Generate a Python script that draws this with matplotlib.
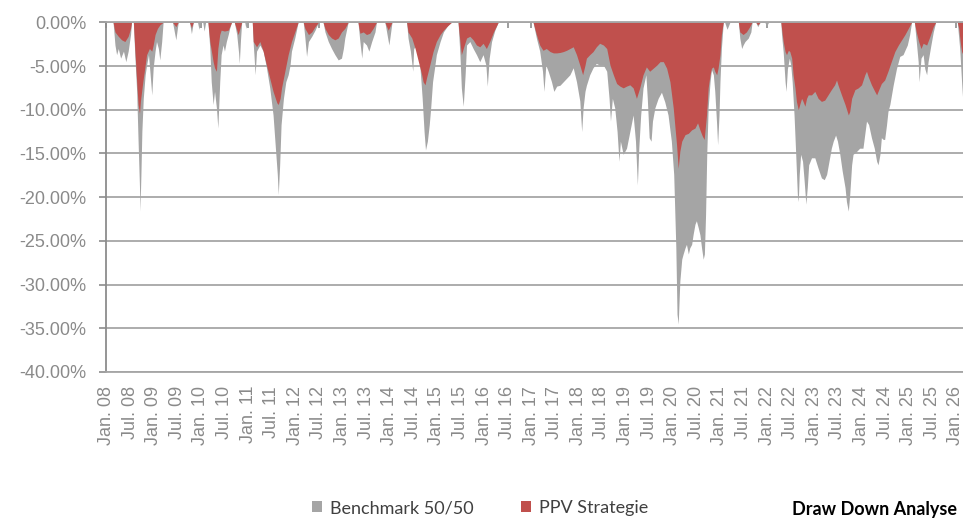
import matplotlib
matplotlib.use("Agg")
import matplotlib.pyplot as plt
from matplotlib.patches import Patch

# ---------------- data (drawdown in %, dates as decimal years) ----------------
bench_dates = [
    2008.14, 2008.18, 2008.215, 2008.25, 2008.30, 2008.36, 2008.41, 2008.46, 2008.51, 2008.53,
    2008.57, 2008.60, 2008.64, 2008.67, 2008.70, 2008.71, 2008.73, 2008.75, 2008.78, 2008.82, 2008.85, 2008.89, 2008.92, 2008.96, 2008.99, 2009.03, 2009.06, 2009.10, 2009.13, 2009.17, 2009.20,
    2009.40, 2009.47, 2009.52, 2009.76, 2009.80, 2009.84, 2009.93, 2009.96, 2009.99, 2010.04, 2010.07, 2010.10,
    2010.15, 2010.19, 2010.22, 2010.26, 2010.29, 2010.33, 2010.36, 2010.40, 2010.43, 2010.47, 2010.50, 2010.54, 2010.58, 2010.61, 2010.65,
    2010.71, 2010.76, 2010.80, 2010.815, 2010.84, 2010.865, 2010.93, 2010.955, 2010.98,
    2011.09, 2011.11, 2011.125, 2011.15, 2011.18, 2011.25, 2011.32, 2011.39, 2011.46, 2011.53, 2011.58, 2011.62, 2011.64, 2011.67, 2011.70, 2011.75, 2011.80, 2011.85, 2011.89, 2011.92, 2011.99, 2012.06,
    2012.17, 2012.205, 2012.24, 2012.28, 2012.35, 2012.42, 2012.49,
    2012.59, 2012.63, 2012.70, 2012.77, 2012.84, 2012.91, 2012.98, 2013.02, 2013.05, 2013.12,
    2013.33, 2013.37, 2013.41, 2013.44, 2013.51, 2013.56, 2013.62, 2013.69, 2013.72,
    2013.90, 2013.985, 2014.05,
    2014.36, 2014.39, 2014.44, 2014.49, 2014.51, 2014.57, 2014.64, 2014.69, 2014.73, 2014.76, 2014.80, 2014.84, 2014.87, 2014.91, 2014.96, 2014.99, 2015.07, 2015.14, 2015.24, 2015.31,
    2015.45, 2015.49, 2015.52, 2015.56, 2015.60, 2015.63, 2015.70, 2015.77, 2015.84, 2015.91, 2015.98, 2016.04, 2016.07, 2016.11, 2016.16, 2016.23, 2016.30,
    2017.04, 2017.11, 2017.18, 2017.24, 2017.27, 2017.31, 2017.36, 2017.43, 2017.48, 2017.54, 2017.61, 2017.68, 2017.75, 2017.82, 2017.89, 2017.96, 2018.03, 2018.07, 2018.10, 2018.14, 2018.17, 2018.24, 2018.31, 2018.38, 2018.45, 2018.53, 2018.60,
    2018.65, 2018.68, 2018.72, 2018.77, 2018.82, 2018.86, 2018.89, 2018.95, 2019.02, 2019.09, 2019.16, 2019.21, 2019.25, 2019.28, 2019.32, 2019.37, 2019.43, 2019.46, 2019.50, 2019.54, 2019.57, 2019.62, 2019.69, 2019.76, 2019.83, 2019.90, 2019.97, 2020.02,
    2020.065, 2020.09, 2020.115, 2020.15, 2020.19, 2020.22, 2020.26, 2020.29, 2020.33, 2020.36, 2020.40, 2020.43, 2020.47, 2020.50, 2020.54, 2020.575, 2020.61, 2020.645, 2020.67, 2020.695, 2020.72, 2020.75, 2020.79, 2020.82, 2020.86, 2020.89, 2020.93, 2020.95, 2020.98, 2021.00, 2021.03, 2021.07,
    2021.10, 2021.15, 2021.21, 2021.39, 2021.42, 2021.46, 2021.49, 2021.53, 2021.60, 2021.655, 2021.68, 2021.76, 2021.80, 2021.85, 2021.95, 2021.99, 2022.03,
    2022.29, 2022.305, 2022.34, 2022.38, 2022.40, 2022.43, 2022.47, 2022.50, 2022.53, 2022.57, 2022.60, 2022.64, 2022.66, 2022.68, 2022.71, 2022.75, 2022.785, 2022.82, 2022.85, 2022.88, 2022.94,
    2023.01, 2023.08, 2023.15, 2023.21, 2023.26, 2023.31, 2023.36, 2023.40, 2023.45, 2023.49, 2023.54, 2023.59, 2023.65, 2023.68, 2023.72, 2023.75, 2023.79, 2023.82, 2023.89, 2023.96,
    2024.03, 2024.105, 2024.15, 2024.21, 2024.27, 2024.32, 2024.35, 2024.39, 2024.42, 2024.46, 2024.49, 2024.53, 2024.56, 2024.60, 2024.67, 2024.74, 2024.81, 2024.88, 2024.92, 2024.97, 2025.02, 2025.06,
    2025.12, 2025.16, 2025.20, 2025.22, 2025.26, 2025.305, 2025.34, 2025.38, 2025.41, 2025.47, 2025.52, 2025.57,
    2026.03, 2026.08, 2026.12, 2026.15,
]
bench_dd = [
    0, -2.6, -3.7, -3.0, -4.1, -3.3, -4.5, -3.3, -1.4, 0,
    0, -3.7, -7.9, -13.6, -18.9, -21.6, -17.4, -12.5, -8.7, -6.0, -4.9, -3.7, -5.6, -8.3, -5.2, -3.3, -2.2, -3.0, -4.3, -2.2, 0,
    0, -2.0, 0, 0, -1.3, 0, 0, -0.8, 0, 0, -1.0, 0,
    0, -3.0, -6.8, -9.4, -7.9, -9.8, -12.1, -6.8, -3.7, -2.6, -3.3, -2.2, -1.4, -0.7, 0,
    0, -1.4, -3.5, -4.7, -2.0, 0, 0, -0.7, 0,
    0, -2.5, -3.7, -6.0, -3.3, -2.6, -3.3, -5.2, -7.5, -10.6, -14.4, -17.4, -19.7, -16.3, -11.7, -8.7, -6.8, -6.0, -4.9, -3.3, -1.8, 0,
    0, -1.8, -3.9, -2.2, -1.6, -0.9, 0,
    0, -1.1, -2.2, -3.0, -3.7, -4.3, -4.1, -3.0, -1.8, 0,
    0, -2.2, -4.1, -2.2, -2.6, -3.3, -2.2, -1.1, 0,
    0, -2.6, 0,
    0, -1.8, -3.3, -5.6, -3.0, -2.6, -4.9, -8.7, -12.5, -14.6, -13.6, -11.7, -9.8, -6.8, -4.9, -3.7, -2.2, -1.1, -0.3, 0,
    0, -3.7, -7.5, -9.6, -6.0, -2.6, -2.2, -3.0, -3.7, -4.5, -3.7, -4.9, -7.3, -4.1, -2.2, -0.9, 0,
    0, -1.8, -3.3, -5.6, -7.9, -4.9, -5.6, -6.8, -7.9, -7.3, -7.2, -6.8, -6.4, -6.0, -5.2, -6.8, -9.0, -12.5, -9.8, -7.9, -7.2, -6.0, -5.2, -4.7, -4.9, -4.9, -5.6,
    -8.7, -11.3, -8.7, -9.8, -12.5, -15.9, -13.6, -15.1, -14.4, -12.5, -10.6, -13.6, -18.6, -14.4, -10.6, -7.5, -6.0, -8.7, -13.2, -13.6, -11.3, -9.8, -8.7, -8.0, -9.1, -10.6, -13.6, -17.4,
    -25.8, -33.4, -34.5, -29.6, -27.1, -26.5, -25.8, -25.4, -26.5, -25.8, -25.4, -24.3, -23.1, -22.7, -23.5, -24.3, -25.8, -27.1, -26.5, -22.0, -15.1, -9.8, -6.8, -5.4, -6.0, -7.9, -11.7, -14.0, -10.6, -6.8, -3.0, 0,
    0, -0.8, 0, 0, -1.8, -3.0, -2.6, -2.2, -1.8, -1.1, 0, 0, -0.5, 0, 0, -0.4, 0,
    0, -1.4, -3.4, -6.8, -7.9, -5.3, -4.1, -4.9, -6.8, -10.6, -14.4, -19.7, -20.5, -17.4, -15.1, -15.9, -18.2, -20.8, -18.9, -16.3, -15.5,
    -15.5, -16.7, -17.8, -18.0, -17.4, -15.9, -14.4, -13.6, -12.9, -13.6, -15.1, -17.0, -18.9, -20.5, -21.6, -19.7, -16.3, -15.1, -14.8, -14.4,
    -14.4, -11.3, -11.7, -13.2, -14.4, -15.9, -16.3, -15.1, -13.2, -13.4, -13.4, -11.7, -10.2, -9.4, -7.2, -5.3, -3.9, -3.7, -3.2, -2.6, -1.4, 0,
    0, -2.2, -4.5, -6.8, -4.1, -3.7, -5.3, -6.0, -4.5, -2.6, -1.1, 0,
    0, -3.0, -6.8, -9.4,
]

strat_dates = [
    2008.14, 2008.18, 2008.25, 2008.32, 2008.39, 2008.46, 2008.51, 2008.53,
    2008.57, 2008.60, 2008.64, 2008.67, 2008.70, 2008.72, 2008.77, 2008.82, 2008.85, 2008.91, 2008.96, 2008.99, 2009.03, 2009.08, 2009.13, 2009.20,
    2009.40, 2009.47, 2009.52, 2009.76, 2009.80, 2009.84,
    2010.15, 2010.19, 2010.26, 2010.29, 2010.33, 2010.36, 2010.40, 2010.43, 2010.50, 2010.58, 2010.65,
    2010.71, 2010.79, 2010.865,
    2011.09, 2011.11, 2011.18, 2011.25, 2011.32, 2011.39, 2011.46, 2011.53, 2011.61, 2011.64, 2011.68, 2011.71, 2011.78, 2011.85, 2011.92, 2011.99, 2012.06,
    2012.17, 2012.205, 2012.28, 2012.35, 2012.42, 2012.49,
    2012.59, 2012.63, 2012.70, 2012.77, 2012.84, 2012.91, 2012.98, 2013.05, 2013.12,
    2013.33, 2013.37, 2013.44, 2013.51, 2013.58, 2013.65, 2013.72,
    2013.90, 2013.97, 2014.05,
    2014.36, 2014.39, 2014.47, 2014.54, 2014.61, 2014.68, 2014.71, 2014.75, 2014.78, 2014.85, 2014.92, 2014.99, 2015.07, 2015.14, 2015.21, 2015.31,
    2015.45, 2015.49, 2015.52, 2015.56, 2015.63, 2015.70, 2015.77, 2015.84, 2015.91, 2015.98, 2016.05, 2016.12, 2016.20, 2016.30,
    2017.04, 2017.11, 2017.18, 2017.25, 2017.32, 2017.40, 2017.47, 2017.54, 2017.61, 2017.68, 2017.75, 2017.82, 2017.89, 2017.96, 2018.03, 2018.09, 2018.14, 2018.17, 2018.24, 2018.31, 2018.38, 2018.45, 2018.53, 2018.60,
    2018.67, 2018.74, 2018.81, 2018.88, 2018.95, 2019.02, 2019.09, 2019.16, 2019.23, 2019.30, 2019.37, 2019.44, 2019.51, 2019.585, 2019.66, 2019.73, 2019.80, 2019.87, 2019.94, 2020.01,
    2020.08, 2020.115, 2020.15, 2020.19, 2020.26, 2020.33, 2020.40, 2020.47, 2020.525, 2020.575, 2020.625, 2020.665, 2020.715, 2020.75, 2020.79, 2020.82, 2020.86, 2020.89, 2020.93, 2020.96, 2021.00, 2021.03, 2021.07,
    2021.39, 2021.42, 2021.49, 2021.56, 2021.63, 2021.68, 2021.76, 2021.80, 2021.85,
    2022.29, 2022.305, 2022.34, 2022.38, 2022.41, 2022.45, 2022.48, 2022.52, 2022.55, 2022.59, 2022.62, 2022.66, 2022.69, 2022.73, 2022.76, 2022.80, 2022.835, 2022.87, 2022.94,
    2023.01, 2023.08, 2023.15, 2023.22, 2023.29, 2023.36, 2023.43, 2023.47, 2023.50, 2023.575, 2023.65, 2023.72, 2023.75, 2023.79, 2023.86, 2023.93,
    2024.00, 2024.07, 2024.105, 2024.14, 2024.21, 2024.28, 2024.32, 2024.35, 2024.42, 2024.49, 2024.56, 2024.63, 2024.705, 2024.78, 2024.85, 2024.92, 2024.99, 2025.06,
    2025.12, 2025.16, 2025.21, 2025.26, 2025.305, 2025.38, 2025.45, 2025.52, 2025.57,
    2026.03, 2026.06, 2026.09, 2026.12, 2026.15,
]
strat_dd = [
    0, -1.1, -1.6, -2.0, -2.2, -1.6, -0.7, 0,
    0, -3.0, -6.8, -9.4, -10.4, -9.0, -6.8, -4.9, -3.7, -3.0, -3.3, -2.6, -1.4, -0.7, -0.3, 0,
    0, -0.5, 0, 0, -0.6, 0,
    0, -2.2, -4.5, -5.2, -5.6, -3.0, -1.4, -0.9, -1.0, -0.9, 0,
    0, -1.4, 0,
    0, -2.2, -2.8, -2.2, -3.3, -4.9, -6.4, -7.9, -9.2, -9.4, -8.7, -7.5, -5.6, -3.7, -2.2, -1.1, 0,
    0, -0.7, -1.4, -1.1, -0.5, 0,
    0, -0.7, -1.4, -1.8, -2.0, -1.8, -1.1, -0.7, 0,
    0, -1.25, -1.1, -1.4, -1.25, -0.7, 0,
    0, -0.9, 0,
    0, -1.1, -1.8, -3.0, -4.5, -6.0, -6.8, -7.15, -6.4, -4.9, -3.35, -2.2, -1.4, -0.9, -0.5, 0,
    0, -2.2, -3.7, -3.0, -1.8, -1.6, -2.0, -2.6, -2.8, -2.4, -3.0, -2.2, -1.1, 0,
    0, -1.4, -2.6, -3.2, -3.0, -3.35, -3.5, -3.5, -3.45, -3.35, -3.2, -3.0, -2.8, -3.7, -4.9, -6.0, -4.9, -4.1, -3.7, -3.35, -2.8, -2.4, -2.6, -3.0,
    -4.9, -6.0, -7.0, -7.3, -7.5, -7.3, -7.15, -7.5, -8.7, -7.5, -6.0, -5.1, -5.6, -5.25, -4.9, -4.5, -4.5, -5.25, -6.8, -9.8,
    -14.0, -16.7, -14.75, -13.6, -12.85, -12.7, -12.3, -12.1, -11.5, -12.3, -13.0, -13.4, -10.6, -7.5, -6.0, -5.25, -5.1, -5.6, -6.0, -5.25, -3.7, -1.4, 0,
    0, -1.1, -1.4, -1.1, -0.5, 0, 0, -0.3, 0,
    0, -0.7, -2.2, -3.35, -3.7, -3.2, -3.35, -4.1, -6.0, -7.5, -9.05, -10.0, -9.4, -8.7, -9.05, -9.6, -8.7, -8.3, -8.3,
    -7.9, -8.7, -9.05, -8.9, -8.3, -7.7, -7.15, -6.6, -7.15, -8.3, -9.4, -10.6, -10.2, -8.7, -7.7, -7.5,
    -7.15, -6.0, -5.6, -6.2, -7.15, -7.9, -8.3, -7.9, -7.0, -6.6, -5.6, -4.5, -3.35, -2.6, -2.0, -1.4, -0.7, 0,
    0, -1.1, -2.2, -3.0, -2.4, -2.6, -1.6, -0.5, 0,
    0, -0.7, -2.2, -3.35, -3.7,
]

series_names = ["Benchmark 50/50", "PPV Strategie"]
tick_positions = [2008 + 0.5 * i for i in range(37)]
tick_labels = [("Jan. " if i % 2 == 0 else "Jul. ") + f"{8 + i // 2:02d}" for i in range(37)]
y_ticks = [0, -5, -10, -15, -20, -25, -30, -35, -40]
y_tick_labels = [f"{v:.2f}%" if v != 0 else "0.00%" for v in y_ticks]
title_text = "Draw Down Analyse"

assert len(bench_dates) == len(bench_dd)
assert len(strat_dates) == len(strat_dd)

# ---------------- style ----------------
GREY = "#a5a5a5"
RED = "#c0504d"
GRID = "#a6a6a6"
AXIS_TXT = "#8a8a8a"

W, H = 963, 520
fig = plt.figure(figsize=(W / 100, H / 100), dpi=100)
ax = fig.add_axes([106 / W, 1 - 372 / H, 1 - 106 / W, (372 - 22.3) / H])

ax.fill_between(bench_dates, bench_dd, 0, color=GREY, lw=0, zorder=2)
ax.fill_between(strat_dates, strat_dd, 0, color=RED, lw=0, zorder=2.1)

ax.set_xlim(2007.99, 2026.15)
ax.set_ylim(-40, 0)

ax.set_yticks(y_ticks)
ax.set_yticklabels(y_tick_labels)
ax.set_xticks(tick_positions)
ax.set_xticklabels(tick_labels, rotation=90, ha="center", va="top")

ax.yaxis.grid(True, color=GRID, lw=1.3)
ax.set_axisbelow(True)

ax.spines["right"].set_visible(False)
ax.spines["left"].set_color("#8c8c8c")
ax.spines["left"].set_linewidth(1.3)
ax.spines["top"].set_color(GRID)
ax.spines["top"].set_linewidth(1.3)
ax.spines["top"].set_zorder(3)
ax.spines["bottom"].set_color(GRID)
ax.spines["bottom"].set_linewidth(1.3)

for t in ax.get_yticklabels() + ax.get_xticklabels():
    t.set_fontfamily("Liberation Sans")
    t.set_fontsize(13)
    t.set_color(AXIS_TXT)

ax.tick_params(axis="y", direction="out", length=5, width=1.2, color="#8c8c8c", pad=9)
ax.tick_params(axis="x", which="both", bottom=False, top=True, labelbottom=True,
               labeltop=False, direction="in", length=4, width=1.2, color="#8c8c8c", pad=10)

handles = [Patch(facecolor=GREY, edgecolor="none"), Patch(facecolor=RED, edgecolor="none")]
fig.legend(handles, series_names, loc="center", bbox_to_anchor=(480 / W, 1 - 508 / H),
           ncol=2, frameon=False, handlelength=0.55, handleheight=0.55, handletextpad=0.45,
           columnspacing=2.6, prop=dict(family="Lato", size=13), labelcolor="#404040")

fig.text(957 / W, 4.5 / H, title_text, ha="right", va="baseline",
         fontfamily="Lato", fontweight="bold", fontsize=13, color="#000000")

fig.savefig("out.png", dpi=100)
